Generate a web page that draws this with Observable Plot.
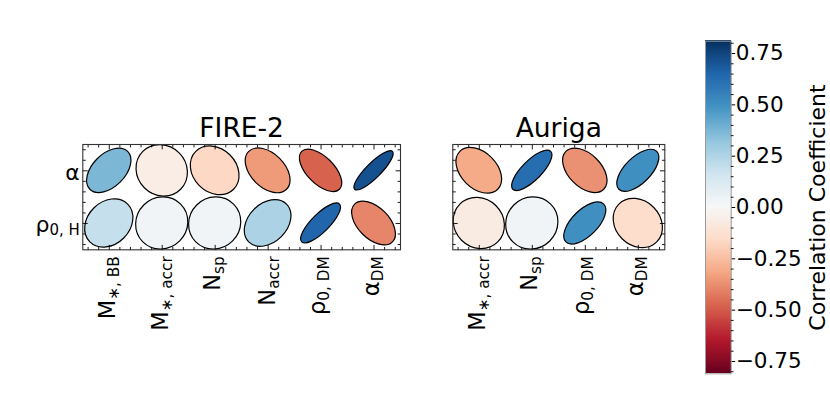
<!DOCTYPE html>
<html><head><meta charset="utf-8">
<script src="https://cdn.jsdelivr.net/npm/d3@7"></script>
<script src="https://cdn.jsdelivr.net/npm/@observablehq/plot@0.6"></script>
<style>
body{margin:0;background:#fff}
#chart{position:relative;width:830px;height:415px;font-family:"DejaVu Sans",sans-serif}
#chart svg{position:absolute;left:0;top:0;overflow:visible}
</style></head><body><div id="chart"></div>
<script>
// ---------- data ----------
const rowLabels = [{main: "α", sub: ""}, {main: "ρ", sub: "0, H"}];
const fireCols = [
  {main: "M", sub: "∗, BB"}, {main: "M", sub: "∗, accr"}, {main: "N", sub: "sp"},
  {main: "N", sub: "accr"}, {main: "ρ", sub: "0, DM"}, {main: "α", sub: "DM"}
];
const aurigaCols = [
  {main: "M", sub: "∗, accr"}, {main: "N", sub: "sp"}, {main: "ρ", sub: "0, DM"}, {main: "α", sub: "DM"}
];
const fireAlpha = [0.37, -0.06, -0.17, -0.35, -0.48, 0.71];
const fireRho   = [0.19, 0.03, 0.03, 0.26, 0.65, -0.40];
const aurigaAlpha = [-0.31, 0.62, -0.37, 0.50];
const aurigaRho   = [-0.07, 0.03, 0.50, -0.15];
const cbTicks = [-0.75, -0.5, -0.25, 0, 0.25, 0.5, 0.75];
const cbLimit = 0.81;
const cbLabel = "Correlation Coefficient";
const rdbu = ["#67001f","#b2182b","#d6604d","#f4a582","#fddbc7","#f7f7f7","#d1e5f0","#92c5de","#4393c3","#2166ac","#053061"];

// ---------- helpers ----------
const FONT = "DejaVu Sans";
const colorOpts = {type: "linear", domain: [-cbLimit, cbLimit], interpolate: d3.piecewise(d3.interpolateRgb, rdbu)};
const tickShape = {draw(context, l) { context.moveTo(0, 0); context.lineTo(0, -l); }};
const SVGNS = "http://www.w3.org/2000/svg";
const ctx2d = document.createElement("canvas").getContext("2d");
function ink(str, fs) {
  ctx2d.font = `${fs}px "${FONT}"`;
  const m = ctx2d.measureText(str);
  return {asc: m.actualBoundingBoxAscent, desc: m.actualBoundingBoxDescent};
}
function centerOffset(d, fs, subScale, shift) {
  const a = ink(d.main, fs);
  let top = a.asc, bot = a.desc;
  if (d.sub) {
    const b = ink(d.sub, fs * subScale);
    top = Math.max(top, b.asc - shift);
    bot = Math.max(bot, b.desc + shift);
  }
  return (top - bot) / 2;
}
function subText(items, fs, subScale, shift, centerRotated) {
  return function(index, scales, values, dims, ctx, next) {
    const g = next(index, scales, values, dims, ctx);
    const texts = g.querySelectorAll("text");
    Array.from(index).forEach((i, k) => {
      const t = texts[k];
      if (!t) return;
      const d = items[i];
      t.textContent = "";
      const m = document.createElementNS(SVGNS, "tspan");
      m.textContent = d.main;
      t.appendChild(m);
      if (d.sub) {
        const s = document.createElementNS(SVGNS, "tspan");
        s.textContent = d.sub;
        s.setAttribute("font-size", fs * subScale);
        s.setAttribute("dy", shift);
        t.appendChild(s);
      }
      if (centerRotated) {
        const off = centerOffset(d, fs, subScale, shift);
        t.setAttribute("transform", `translate(${off},0) ` + (t.getAttribute("transform") || ""));
      }
    });
    return g;
  };
}
function ellipseRender(cells) {
  return function(index, scales, values) {
    const ux = Math.abs(scales.x(1) - scales.x(0));
    const g = d3.create("svg:g");
    for (const i of index) {
      const v = cells[i].v;
      g.append("ellipse")
        .attr("cx", 0).attr("cy", 0)
        .attr("rx", 1.01 * ux / 2)
        .attr("ry", (0.99 - Math.abs(v)) * ux / 2)
        .attr("transform", `translate(${values.x[i]},${values.y[i]}) rotate(${-45 * Math.sign(v)})`)
        .attr("fill", values.fill[i])
        .attr("stroke", "#000")
        .attr("stroke-width", 1.2);
    }
    return g.node();
  };
}

function panel(cols, alpha, rho, title, left, right, showY) {
  const n = cols.length;
  const cells = [];
  cols.forEach((c, i) => { cells.push({col: i, row: 0, v: alpha[i]}); cells.push({col: i, row: 1, v: rho[i]}); });
  const xMaj = d3.range(n);
  const xMin = d3.range(-0.4, n - 0.5 + 1e-9, 0.2).filter(v => Math.abs(v - Math.round(v)) > 1e-6);
  const yMaj = [0, 1];
  const yMin = d3.range(-0.4, 1.5 + 1e-9, 0.2).filter(v => Math.abs(v - Math.round(v)) > 1e-6);
  const colItems = cols.map((c, i) => ({...c, col: i}));
  const rowItems = rowLabels.map((c, i) => ({...c, row: i}));
  const tk = (data, axis, edge, rot, len) => Plot.vector(data, axis === "x"
    ? {x: d => d, y: () => edge, rotate: rot, length: len, anchor: "start", shape: tickShape, stroke: "#000", strokeWidth: 0.9}
    : {x: () => edge, y: d => d, rotate: rot, length: len, anchor: "start", shape: tickShape, stroke: "#000", strokeWidth: 0.9});
  const marks = [
    Plot.dot(cells, {x: "col", y: "row", fill: "v", r: 1, render: ellipseRender(cells)}),
    tk(xMaj, "x", 1.5, 0, 4.5), tk(xMin, "x", 1.5, 0, 2.5),
    tk(xMaj, "x", -0.5, 180, 4.5), tk(xMin, "x", -0.5, 180, 2.5),
    tk(yMaj, "y", -0.5, 90, 4.5), tk(yMin, "y", -0.5, 90, 2.5),
    tk(yMaj, "y", n - 0.5, 270, 4.5), tk(yMin, "y", n - 0.5, 270, 2.5),
    Plot.frame({stroke: "#333", strokeWidth: 1.1}),
    Plot.text([title], {frameAnchor: "top", lineAnchor: "bottom", dy: -7.3, fontSize: 26.5, fill: "#000"}),
    Plot.text(colItems, {x: "col", y: () => 1.5, text: d => d.main + d.sub, rotate: -90, textAnchor: "end",
      lineAnchor: "bottom", dy: 6.5, fontSize: 22.5, fill: "#000", render: subText(colItems, 22.5, 0.68, 4, true)})
  ];
  if (showY) {
    marks.push(Plot.text(rowItems, {x: () => -0.5, y: "row", text: d => d.main + d.sub, textAnchor: "end",
      lineAnchor: "bottom", dx: -3, dy: 9, fontSize: 22, fill: "#000", render: subText(rowItems, 22, 0.68, 2.5, false)}));
  }
  return Plot.plot({
    width: 830, height: 415,
    marginLeft: left, marginRight: 830 - right, marginTop: 144, marginBottom: 415 - 249.3,
    x: {domain: [-0.5, n - 0.5], axis: null},
    y: {domain: [-0.5, 1.5], reverse: true, axis: null},
    color: colorOpts,
    style: {fontFamily: FONT, background: "transparent", overflow: "visible"},
    marks
  });
}

const firePlot = panel(fireCols, fireAlpha, fireRho, "FIRE-2", 82.3, 400, true);
const aurigaPlot = panel(aurigaCols, aurigaAlpha, aurigaRho, "Auriga", 452.3, 664.3, false);

// colorbar
const N = 340;
const stepV = 2 * cbLimit / N;
const steps = d3.range(N).map(k => -cbLimit + k * stepV);
const cbMinor = d3.range(-0.8, 0.8 + 1e-9, 0.05).map(v => Math.round(v * 100) / 100)
  .filter(v => !cbTicks.some(t => Math.abs(t - v) < 1e-6));
const cbPlot = Plot.plot({
  width: 830, height: 415,
  marginLeft: 705, marginRight: 830 - 730.7, marginTop: 40.7, marginBottom: 415 - 373.3,
  x: {domain: [0, 1], axis: null},
  y: {domain: [-cbLimit, cbLimit]},
  color: colorOpts,
  style: {fontFamily: FONT, background: "transparent", overflow: "visible"},
  marks: [
    Plot.rect(steps, {x1: () => 0, x2: () => 1, y1: d => d, y2: d => d + stepV * 1.6, fill: d => d + stepV / 2, shapeRendering: "crispEdges"}),
    Plot.frame({stroke: "#999", strokeWidth: 1}),
    Plot.vector(cbMinor, {x: () => 1, y: d => d, rotate: 90, length: 2, anchor: "start", shape: tickShape, stroke: "#000", strokeWidth: 0.9}),
    Plot.axisY(cbTicks, {anchor: "right", tickSize: 3.5, tickPadding: 1, tickFormat: d3.format(".2f"), fontSize: 21.5, label: null, color: "#000"}),
    Plot.text([cbLabel], {frameAnchor: "right", rotate: -90, textAnchor: "middle", lineAnchor: "middle", dx: 86.8, fontSize: 22, fill: "#000"})
  ]
});

const chart = document.getElementById("chart");
[firePlot, aurigaPlot, cbPlot].forEach(p => chart.appendChild(p));
</script></body></html>
